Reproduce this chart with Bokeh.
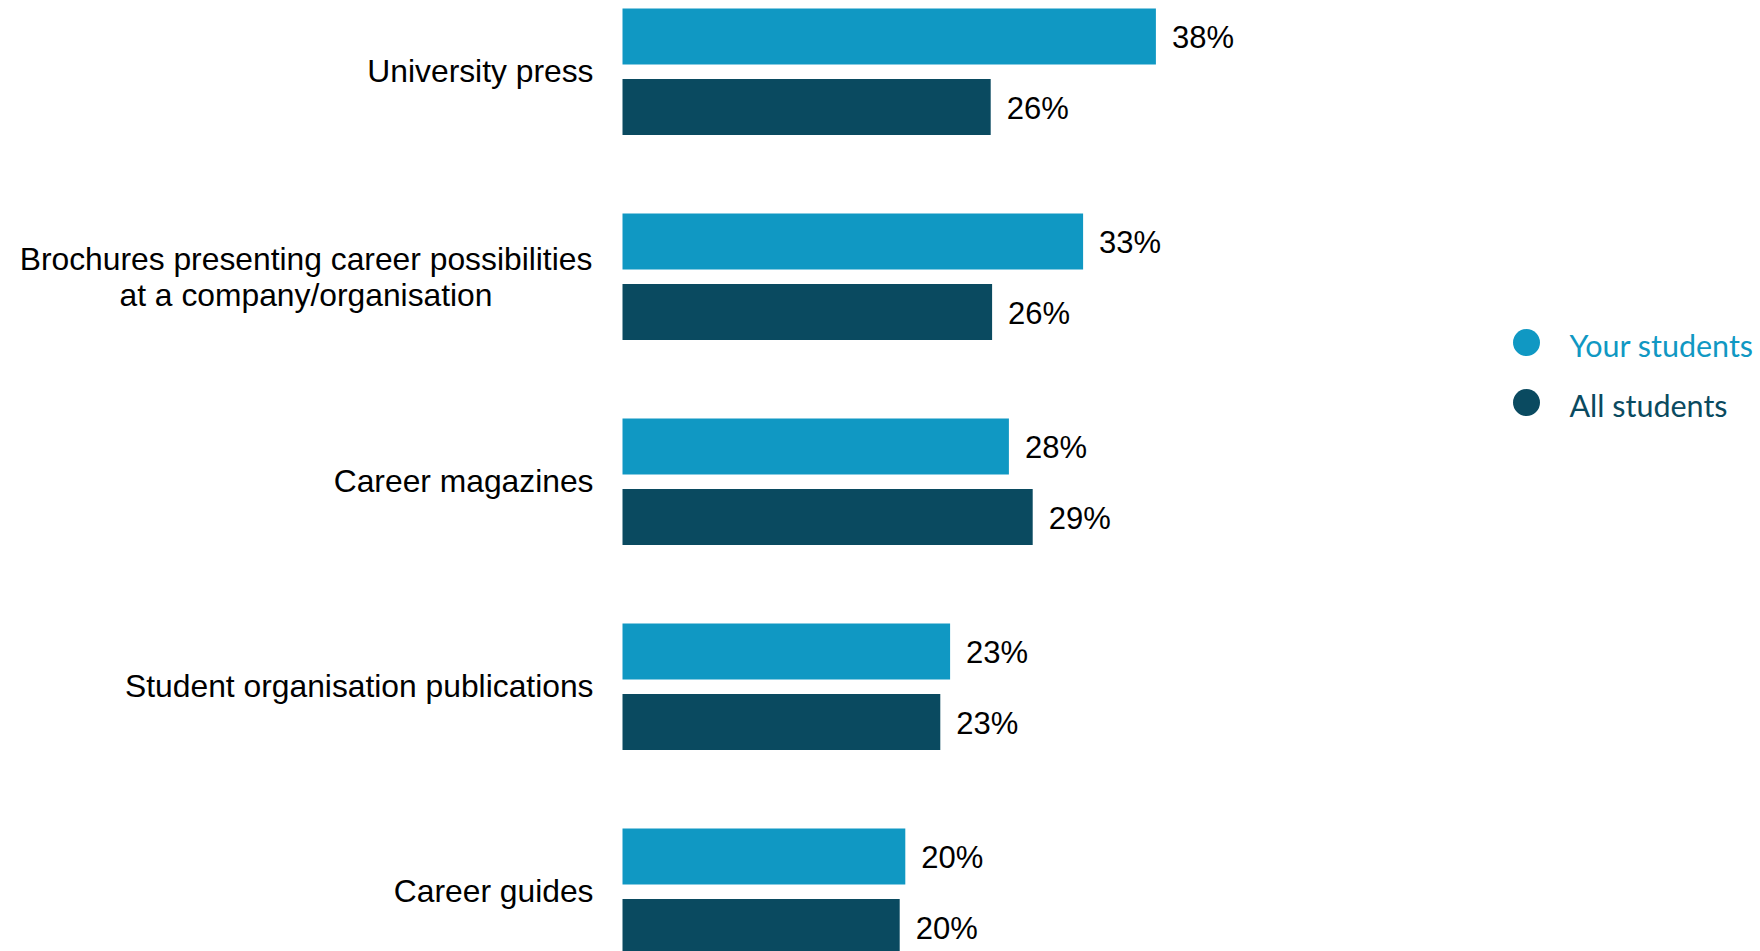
from bokeh.plotting import figure
from bokeh.models import ColumnDataSource, Range1d
from bokeh.core.properties import value
from bokeh.embed import file_html
from bokeh.resources import INLINE

# ---- data ----
categories = [
    "University press",
    "Brochures presenting career possibilities\nat a company/organisation",
    "Career magazines",
    "Student organisation publications",
    "Career guides",
]
your_students = [38.1, 32.9, 27.6, 23.4, 20.2]
all_students = [26.3, 26.4, 29.3, 22.7, 19.8]
series_names = ["Your students", "All students"]

# ---- style ----
C_YOUR = "#1098C3"
C_ALL = "#0A4A60"
PX = 14.0          # px per percent
PITCH = 205.0      # px per category
W, H = 1760, 951
X0 = 622           # bar origin in figure px
Y0 = 71.3          # first category center in figure px

def dx(px):
    return px / PX

def dy(px):
    return px / PITCH

idx = list(range(len(categories)))
off = dy(35.3)
bh = dy(56)

p = figure(width=W, height=H, output_backend="svg", toolbar_location=None,
           x_range=Range1d(-X0 / PX, (W - X0) / PX),
           y_range=Range1d((H - Y0) / PITCH, -Y0 / PITCH),
           min_border=0)
p.axis.visible = False
p.grid.visible = False
p.outline_line_color = None
p.background_fill_color = "white"
p.border_fill_color = "white"

src_y = ColumnDataSource(dict(y=[i - off for i in idx], v=your_students,
                              t=[f"{round(v)}%" for v in your_students],
                              tx=[v + dx(16) for v in your_students]))
src_a = ColumnDataSource(dict(y=[i + off for i in idx], v=all_students,
                              t=[f"{round(v)}%" for v in all_students],
                              tx=[v + dx(16) for v in all_students]))

p.hbar(y="y", left=0, right="v", height=bh, source=src_y, fill_color=C_YOUR, line_color=None)
p.hbar(y="y", left=0, right="v", height=bh, source=src_a, fill_color=C_ALL, line_color=None)

for s in (src_y, src_a):
    p.text(x="tx", y="y", text="t", source=s, text_font=value("Liberation Sans"),
           text_font_size="31px", text_color="#000000", text_align="left",
           text_baseline="middle", y_offset=1)

# category labels
single = [(i, c) for i, c in zip(idx, categories) if "\n" not in c]
multi = [(i, c) for i, c in zip(idx, categories) if "\n" in c]
p.text(x=[dx(-29)] * len(single), y=[i for i, _ in single],
       text=[c for _, c in single], text_font=value("Liberation Sans"),
       text_font_size="31.8px", text_color="#000000", text_align="right",
       text_baseline="middle", y_offset=-1)
p.text(x=[dx(-29 - 287.5)] * len(multi), y=[i for i, _ in multi],
       text=[c for _, c in multi], text_font=value("Liberation Sans"),
       text_font_size="31.8px", text_color="#000000", text_align="center",
       text_baseline="middle", text_line_height=1.0)

# legend (manual, colored labels)
leg_x = dx(1526 - X0)
leg_y = [dy(342 - Y0), dy(402 - Y0)]
p.scatter(x=[leg_x] * 2, y=leg_y, size=27, marker="circle",
          fill_color=[C_YOUR, C_ALL], line_color=None)
for name, yy, col in zip(series_names, leg_y, [C_YOUR, C_ALL]):
    p.text(x=[dx(1569 - X0)], y=[yy + dy(2)], text=[name],
           text_font=value("Lato"), text_font_size="30.5px", text_color=col,
           text_align="left", text_baseline="middle")

open("out.html", "w").write(file_html(p, INLINE))
